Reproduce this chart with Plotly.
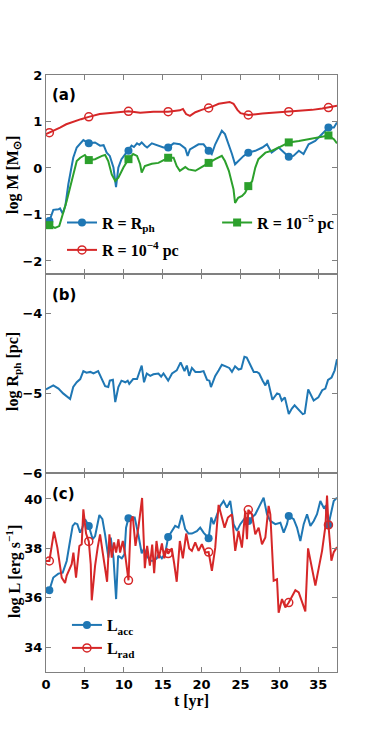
import plotly.graph_objects as go
from plotly.subplots import make_subplots

# times (yr) where markers sit on every curve
MARK_T = [0.43, 5.5, 10.6, 15.7, 20.9, 26.0, 31.2, 36.3]

# panel (a): log M
rph_t = [0.0, 0.43, 0.94, 1.6, 1.8, 2.15, 2.5, 2.87, 3.5, 3.95, 4.8, 5.5, 6.3, 6.95, 7.4, 7.8, 8.2, 8.67,
         9.0, 9.3, 9.7, 10.2, 10.6, 11.0, 11.3, 11.7, 12.0, 12.3, 12.7, 13.0, 13.6, 14.5, 15.1, 15.7, 16.4,
         17.2, 17.9, 18.2, 18.5, 19.6, 20.25, 20.9, 21.3, 21.75, 22.2, 22.6, 23.0, 23.5, 23.9, 24.3, 24.75,
         25.4, 26.0, 26.9, 27.8, 28.4, 29.0, 29.9, 30.8, 31.2, 31.8, 32.5, 33.1, 33.75, 34.6, 35.5, 36.3,
         37.0, 37.4]
rph_m = [-1.18, -1.14, -0.90, -0.89, -0.87, -0.98, -0.80, -0.35, 0.22, 0.44, 0.60, 0.53, 0.55, 0.48, 0.49,
         0.33, 0.26, 0.01, -0.41, 0.01, 0.19, 0.30, 0.37, 0.48, 0.45, 0.53, 0.50, 0.55, 0.48, 0.44, 0.53,
         0.48, 0.44, 0.44, 0.53, 0.51, 0.42, 0.26, 0.40, 0.51, 0.51, 0.37, 0.30, 0.51, 0.65, 0.80, 0.73,
         0.51, 0.30, 0.08, 0.15, 0.26, 0.33, 0.37, 0.44, 0.51, 0.33, 0.44, 0.30, 0.24, 0.26, 0.37, 0.30,
         0.51, 0.58, 0.73, 0.87, 0.87, 0.98]

r4_t = [0.0, 0.43, 1.0, 1.8, 2.6, 3.5, 4.5, 5.5, 6.9, 8.6, 10.6, 12.1, 13.0, 13.8, 15.7, 16.5, 17.2, 17.6,
        18.0, 18.5, 19.2, 20.0, 20.9, 21.5, 22.2, 23.0, 23.6, 24.1, 24.6, 25.0, 26.0, 27.8, 29.5, 31.2,
        32.8, 34.2, 35.5, 36.3, 37.4]
r4_m = [0.73, 0.76, 0.80, 0.87, 0.94, 1.00, 1.05, 1.10, 1.16, 1.19, 1.22, 1.19, 1.20, 1.21, 1.21, 1.22,
        1.24, 1.27, 1.16, 1.12, 1.20, 1.25, 1.29, 1.33, 1.38, 1.40, 1.42, 1.38, 1.25, 1.18, 1.14, 1.17,
        1.19, 1.21, 1.23, 1.25, 1.28, 1.30, 1.34]

r5_t = [0.0, 0.43, 1.16, 1.7, 2.66, 3.5, 3.95, 4.4, 5.0, 5.5, 6.3, 7.2, 7.6, 8.0, 8.45, 8.9, 9.3, 9.95,
        10.6, 11.2, 11.7, 12.1, 12.3, 12.7, 13.6, 14.45, 15.7, 16.4, 16.8, 17.2, 17.9, 18.3, 19.2, 20.0,
        20.9, 21.75, 22.6, 23.0, 23.5, 23.8, 24.1, 24.3, 24.7, 25.2, 25.6, 26.0, 26.5, 26.9, 27.3, 28.2,
        29.0, 29.9, 31.2, 32.5, 33.75, 35.0, 36.3, 37.0, 37.4]
r5_m = [-1.22, -1.23, -1.29, -1.25, -0.71, -0.14, 0.15, 0.22, 0.28, 0.17, 0.19, 0.26, 0.28, 0.15, -0.14,
        -0.28, -0.21, 0.01, 0.19, 0.30, 0.26, 0.08, -0.10, 0.04, 0.09, 0.11, 0.22, 0.22, 0.04, -0.06,
        0.02, -0.03, -0.06, 0.02, 0.11, 0.19, 0.26, 0.15, -0.06, -0.28, -0.46, -0.75, -0.64, -0.60, -0.53,
        -0.39, -0.28, 0.01, 0.19, 0.33, 0.37, 0.44, 0.55, 0.58, 0.62, 0.65, 0.70, 0.62, 0.53]

# panel (b): log R_ph
rad_t = [0.0, 0.94, 1.6, 2.2, 3.1, 3.5, 3.95, 4.4, 4.8, 5.2, 5.7, 6.1, 6.7, 7.2, 7.6, 8.0, 8.2, 8.6, 8.9,
         9.3, 9.7, 10.2, 10.5, 10.7, 11.2, 11.7, 12.3, 12.6, 12.95, 13.4, 13.8, 14.45, 14.8, 15.1, 15.7,
         16.2, 16.8, 17.3, 17.8, 18.1, 18.4, 18.75, 19.2, 19.8, 20.25, 20.7, 21.0, 21.2, 21.75, 22.2, 22.6,
         23.1, 23.55, 23.9, 24.3, 24.75, 25.1, 25.5, 25.8, 26.25, 26.7, 27.1, 27.4, 27.85, 28.2, 28.5, 29.1,
         29.7, 30.0, 30.3, 30.7, 31.2, 31.6, 31.95, 32.5, 33.0, 33.25, 33.7, 34.4, 35.0, 35.5, 35.9, 36.25,
         36.7, 37.1, 37.4]
rad_v = [-4.95, -4.90, -4.94, -5.00, -5.07, -4.92, -4.86, -4.82, -4.72, -4.74, -4.73, -4.75, -4.72, -4.83,
         -4.91, -4.92, -4.84, -4.83, -5.11, -4.92, -4.84, -4.86, -4.84, -4.88, -4.82, -4.82, -4.65, -4.86,
         -4.75, -4.78, -4.76, -4.75, -4.79, -4.75, -4.84, -4.75, -4.71, -4.61, -4.72, -4.65, -4.78, -4.68,
         -4.73, -4.73, -4.72, -4.83, -4.84, -4.92, -4.78, -4.71, -4.64, -4.66, -4.68, -4.73, -4.66, -4.70,
         -4.69, -4.54, -4.55, -4.64, -4.73, -4.73, -4.75, -4.84, -4.90, -4.83, -5.08, -5.00, -5.01, -5.09,
         -5.05, -5.26, -5.19, -5.15, -5.21, -5.26, -5.25, -4.95, -5.09, -5.05, -4.96, -4.94, -4.83, -4.80,
         -4.71, -4.57]

# panel (c): log L
lacc_t = [0.0, 0.43, 0.94, 1.59, 2.15, 2.66, 3.09, 3.43, 3.73, 4.03, 4.38, 4.68, 5.02, 5.5, 6.0, 6.31, 6.86,
          7.25, 7.59, 8.02, 8.32, 8.67, 9.01, 9.27, 9.74, 10.08, 10.29, 10.6, 11.15, 11.4, 11.9, 12.3, 12.6,
          12.96, 13.39, 13.81, 14.24, 14.46, 14.89, 15.32, 15.7, 16.17, 16.6, 17.03, 17.46, 17.89, 18.32,
          18.75, 19.39, 19.82, 20.25, 20.9, 21.24, 21.54, 21.97, 22.39, 22.82, 23.25, 23.68, 24.11, 24.54,
          24.97, 25.61, 26.0, 26.47, 26.9, 27.33, 27.97, 28.4, 28.83, 29.47, 30.12, 30.55, 30.97, 31.2,
          31.83, 32.26, 32.69, 33.12, 33.55, 33.98, 34.41, 34.83, 35.26, 35.69, 35.9, 36.3, 36.98, 37.4]
lacc_v = [36.25, 36.31, 36.82, 36.98, 37.02, 37.49, 38.30, 38.91, 39.02, 38.98, 38.64, 38.84, 39.18, 38.91,
          38.37, 38.50, 39.35, 39.18, 38.57, 37.63, 38.44, 37.63, 35.95, 37.70, 37.60, 37.76, 38.84, 39.22,
          39.25, 39.25, 38.50, 37.80, 38.00, 37.70, 37.50, 37.50, 37.60, 37.76, 37.60, 37.80, 38.46, 38.71,
          38.91, 38.84, 39.35, 38.78, 38.60, 38.60, 38.70, 38.84, 38.64, 38.41, 39.25, 38.98, 39.38, 39.72,
          39.92, 39.65, 39.92, 38.98, 38.71, 38.98, 39.25, 39.11, 39.25, 39.38, 39.65, 40.05, 39.38, 39.11,
          38.98, 39.04, 38.64, 38.98, 39.31, 39.18, 38.84, 38.30, 38.98, 39.38, 38.91, 39.11, 39.38, 39.92,
          39.65, 39.70, 38.95, 39.92, 40.05]

lrad_t = [0.0, 0.43, 1.03, 1.46, 2.02, 2.45, 2.66, 3.3, 3.52, 3.86, 4.29, 4.59, 4.8, 5.15, 5.5, 5.75, 5.88,
          6.31, 6.65, 6.95, 7.29, 7.59, 7.85, 8.15, 8.45, 8.75, 9.01, 9.31, 9.52, 9.87, 10.17, 10.6, 10.9,
          11.15, 11.5, 11.9, 12.35, 12.7, 13.0, 13.35, 13.65, 13.9, 14.2, 14.5, 14.9, 15.2, 15.5, 15.7,
          16.17, 16.47, 16.8, 17.2, 17.59, 18.02, 18.4, 18.75, 19.18, 19.61, 20.03, 20.46, 20.9, 21.32,
          21.75, 22.18, 22.52, 22.95, 23.38, 23.9, 24.32, 24.75, 25.18, 25.61, 25.83, 26.0, 26.47, 26.9,
          27.33, 27.76, 28.19, 28.61, 28.83, 29.26, 29.69, 29.9, 30.33, 30.76, 31.2, 31.62, 32.05, 32.48,
          32.9, 33.33, 33.68, 34.19, 34.62, 35.05, 35.48, 35.91, 36.12, 36.3, 36.68, 36.98, 37.4]
lrad_v = [37.49, 37.49, 38.68, 38.03, 36.82, 36.60, 36.90, 37.36, 37.83, 36.82, 38.10, 38.17, 39.58, 38.60,
          38.28, 37.36, 35.90, 37.30, 38.05, 38.57, 37.83, 37.23, 36.65, 38.57, 37.63, 38.24, 37.83, 38.37,
          37.83, 38.30, 37.76, 36.71, 39.11, 39.30, 38.10, 38.90, 40.04, 37.20, 38.10, 37.30, 38.15, 37.00,
          38.30, 37.60, 38.20, 37.60, 38.00, 37.79, 38.00, 37.40, 36.65, 38.30, 37.60, 38.60, 38.00, 37.90,
          38.24, 37.90, 38.17, 37.83, 37.85, 37.09, 38.03, 39.76, 39.38, 38.84, 39.25, 39.38, 37.90, 38.71,
          38.03, 39.52, 38.37, 39.56, 39.38, 38.57, 38.84, 38.17, 38.44, 39.72, 39.38, 36.69, 36.75, 35.40,
          35.95, 35.61, 35.81, 36.08, 36.31, 36.22, 35.88, 35.45, 38.00, 37.20, 36.50, 37.20, 37.90, 38.90,
          40.14, 38.95, 37.50, 37.85, 38.05]

BLUE = "#1f77b4"
RED = "#d62728"
GREEN = "#2ca02c"
FRAME = "#808080"
TICK_FONT = dict(family="DejaVu Sans", size=13, color="black", weight="bold")
SERIF = dict(family="Liberation Serif", size=16, color="black", weight="bold")


def marks(t, v):
    return [v[t.index(m)] for m in MARK_T]


fig = make_subplots(rows=3, cols=1, shared_xaxes=True, vertical_spacing=0)

marker_styles = {
    "blue": dict(symbol="circle", size=8, color=BLUE),
    "red": dict(symbol="circle-open", size=8, color=RED, line=dict(width=1.5, color=RED)),
    "green": dict(symbol="square", size=8, color=GREEN),
}


def add_series(t, v, color, mstyle, row, name, legend):
    fig.add_trace(go.Scatter(x=t, y=v, mode="lines", line=dict(color=color, width=2),
                             showlegend=False, hoverinfo="skip"), row=row, col=1)
    fig.add_trace(go.Scatter(x=MARK_T, y=marks(t, v), mode="markers", marker=mstyle,
                             showlegend=False), row=row, col=1)
    # legend entry
    fig.add_trace(go.Scatter(x=[None], y=[None], mode="lines+markers", name=name,
                             line=dict(color=color, width=2), marker=mstyle,
                             legend=legend), row=row, col=1)


add_series(rph_t, rph_m, BLUE, marker_styles["blue"], 1, "R = R<sub>ph</sub>", "legend")
add_series(r4_t, r4_m, RED, marker_styles["red"], 1, "R = 10<sup>−4</sup> pc", "legend2")
add_series(r5_t, r5_m, GREEN, marker_styles["green"], 1, "R = 10<sup>−5</sup> pc", "legend3")

fig.add_trace(go.Scatter(x=rad_t, y=rad_v, mode="lines", line=dict(color=BLUE, width=2),
                         showlegend=False), row=2, col=1)

add_series(lacc_t, lacc_v, BLUE, marker_styles["blue"], 3, "L<sub>acc</sub>", "legend4")
add_series(lrad_t, lrad_v, RED, marker_styles["red"], 3, "L<sub>rad</sub>", "legend5")

axis_style = dict(showline=True, linecolor=FRAME, linewidth=1, mirror="allticks", ticks="inside",
                  ticklen=5, tickcolor=FRAME, showgrid=False, zeroline=False, tickfont=TICK_FONT,
                  automargin=False)
fig.update_xaxes(axis_style, range=[0, 37.4], tick0=0, dtick=5)
fig.update_xaxes(title=dict(text="t [yr]", font=SERIF, standoff=4), row=3, col=1)
fig.update_yaxes(axis_style)
fig.update_yaxes(range=[-2.28, 2], dtick=1, row=1, col=1)
fig.update_yaxes(range=[-6, -3.5], dtick=1, row=2, col=1)
fig.update_yaxes(range=[33, 41.05], dtick=2, row=3, col=1)

legend_base = dict(bgcolor="rgba(0,0,0,0)", font=SERIF, xanchor="left", yanchor="middle")
fig.update_layout(
    legend=dict(legend_base, x=0.055, y=0.7526),
    legend2=dict(legend_base, x=0.055, y=0.7069),
    legend3=dict(legend_base, x=0.588, y=0.7526),
    legend4=dict(legend_base, x=0.072, y=0.0787),
    legend5=dict(legend_base, x=0.072, y=0.0402),
)

# panel tags
for txt, ypx in (("(a)", 95), ("(b)", 295), ("(c)", 494)):
    fig.add_annotation(text=txt, xref="paper", yref="paper", x=(50 - 46) / 291, y=(672 - ypx) / 597,
                       xanchor="left", yanchor="middle", showarrow=False,
                       font=dict(family="DejaVu Sans", size=15, color="black", weight="bold"))

# y titles
for txt, ypx in (("log M [M<sub>⊙</sub>]", 175), ("log R<sub>ph</sub> [pc]", 372),
                 ("log L [erg s<sup>−1</sup>]", 572)):
    fig.add_annotation(text=txt, xref="paper", yref="paper", x=(13 - 46) / 291, y=(672 - ypx) / 597,
                       xanchor="center", yanchor="middle", textangle=-90, showarrow=False, font=SERIF)

fig.update_layout(width=374, height=747, margin=dict(l=46, r=37, t=75, b=75),
                  plot_bgcolor="white", paper_bgcolor="white")

# drop the default body margin so the figure fills the window exactly
fig.write_html("out.html", config={"displayModeBar": False},
               post_script="document.body.style.margin = '0';")
